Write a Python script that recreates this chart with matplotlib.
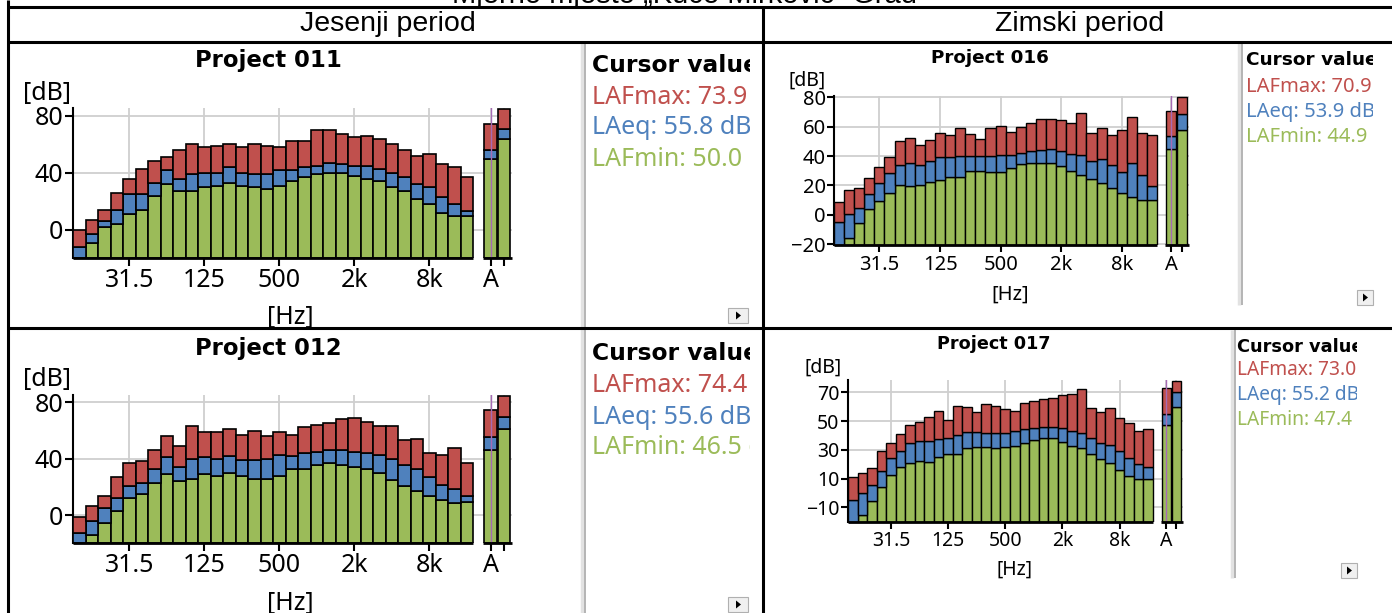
import numpy as np
import matplotlib
matplotlib.use('Agg')
import matplotlib.pyplot as plt
from matplotlib.lines import Line2D
from matplotlib.patches import Rectangle, Polygon
from matplotlib.transforms import Bbox, blended_transform_factory
from matplotlib import font_manager as fm

W, H, DPI = 1392, 613, 100

# ---------------- data ----------------
bands = ['12.5', '16', '20', '25', '31.5', '40', '50', '63', '80', '100', '125', '160',
         '200', '250', '315', '400', '500', '630', '800', '1k', '1.25k', '1.6k', '2k',
         '2.5k', '3.15k', '4k', '5k', '6.3k', '8k', '10k', '12.5k', '16k']
shown_ticks = ['31.5', '125', '500', '2k', '8k']
weight_labels = ['A', '']

p011_max = [0, 7, 14, 26, 36, 43, 48, 51, 56, 60, 58, 59, 60, 58, 60, 59, 58, 62, 62, 70, 70, 67, 65, 66, 64, 60, 56, 52, 53, 46, 44, 37]
p011_eq = [-12, -3, 6, 14, 25, 25, 33, 42, 36, 39, 40, 40, 44, 40, 39, 39, 42, 42, 44, 45, 47, 46, 45, 45, 43, 40, 37, 32, 30, 23, 18, 13]
p011_min = [-22, -9, 2, 4, 11, 14, 24, 32, 27, 27, 30, 31, 33, 31, 30, 29, 31, 34, 37, 39, 40, 40, 38, 36, 34, 30, 27, 22, 18, 12, 10, 10]
p011_a_max = [73.9, 85.0]
p011_a_eq = [55.8, 70.5]
p011_a_min = [50.0, 63.5]

p012_max = [-1, 7, 14, 27, 37, 38.5, 46, 56, 49, 63, 59, 59, 61, 57, 60, 56.5, 59, 57, 62.5, 64, 65, 68, 69, 66, 63, 63, 53, 54, 44, 43, 47.5, 37]
p012_eq = [-12.6, -4, 5, 12, 21, 23, 33, 41, 34, 40, 41, 40, 42, 39, 39, 40, 43, 42, 44, 45, 46, 46, 45, 44, 42.5, 40, 36, 33, 27, 21.6, 18.5, 14]
p012_min = [-22, -14, -5.5, 3, 12, 15, 23, 29, 24, 26, 29, 28, 30, 28, 26, 26, 28, 32.5, 33, 36, 37, 36, 34, 32.5, 30, 25, 21, 17, 14, 11, 9, 9.5]
p012_a_max = [74.4, 84.5]
p012_a_eq = [55.6, 69.5]
p012_a_min = [46.5, 61.0]

p016_max = [8.6, 17, 18, 25, 32.5, 39.5, 50, 52, 47.5, 51, 56, 54, 59, 55, 51.5, 59, 60.5, 56.5, 59.5, 62.5, 65.5, 65.5, 64.5, 62.5, 69.5, 56, 59, 54.5, 58, 66.5, 56, 54]
p016_eq = [-5, 0.5, 4.5, 14, 21.5, 28.5, 34, 35.5, 34, 36.5, 39, 39, 40, 40, 40, 40, 40.5, 41, 42, 43.5, 44, 44.5, 43.5, 41.5, 41, 36.5, 38, 34, 29, 35, 27, 19.5]
p016_min = [-23, -16, -6, 4, 9.5, 15, 20, 19.5, 20.5, 22.5, 23.5, 26, 26, 30, 29.5, 29, 29, 32, 34.5, 35, 35.5, 35, 33, 30, 27, 24.5, 21.5, 18, 14.5, 12, 10, 10]
p016_a_max = [70.9, 80.5]
p016_a_eq = [53.9, 68.5]
p016_a_min = [44.9, 58.0]

p017_max = [11, 13.6, 17.6, 29.5, 35, 41, 47, 49.5, 53, 57, 51, 60.5, 59.6, 56.5, 62, 60.5, 58.6, 57, 62.8, 63.7, 65.6, 66.3, 68, 68.8, 72, 59, 56, 59, 52.4, 48.5, 43.3, 44.7]
p017_eq = [-5, 0.3, 5.5, 15, 24.5, 29, 34.5, 36.5, 36, 37.7, 38.4, 40.5, 42.6, 42.6, 42, 42, 42, 43, 44.7, 45.4, 46, 46, 45, 43, 42, 38, 35, 33.4, 29, 24, 20, 18]
p017_min = [-23, -15, -5.5, 4, 12.5, 18, 21, 22, 21.7, 24.7, 27, 27, 31, 32, 32, 31, 32, 33, 35, 36.8, 38, 38, 35.6, 33, 31.3, 27, 23.7, 21, 16, 12, 10, 10]
p017_a_max = [73.0, 78.0]
p017_a_eq = [55.2, 70.0]
p017_a_min = [47.4, 60.0]

RED, BLUE, GREEN = '#C0504D', '#4F81BD', '#9BBB59'


def pick_font(name, fallback):
    try:
        fm.findfont(fm.FontProperties(family=name), fallback_to_default=False)
        return name
    except Exception:
        return fallback


CHART_FONT = pick_font('Noto Sans', 'DejaVu Sans')
HEAD_FONT = pick_font('Liberation Sans Narrow', 'Liberation Sans')
BOLD_FONT = 'DejaVu Sans'
plt.rcParams['font.family'] = [CHART_FONT, 'DejaVu Sans']

fig = plt.figure(figsize=(W / DPI, H / DPI), dpi=DPI)
fig.patch.set_facecolor('white')


def fr(x0, y0, x1, y1):
    return [x0 / W, 1 - y1 / H, (x1 - x0) / W, (y1 - y0) / H]


def fline(x0, y0, x1, y1, color='black', lw=2.2, z=10):
    fig.add_artist(Line2D([x0 / W, x1 / W], [1 - y0 / H, 1 - y1 / H], transform=fig.transFigure,
                          color=color, lw=lw, solid_capstyle='butt', zorder=z))


def ftext(x, y, s, **kw):
    return fig.text(x / W, 1 - y / H, s, **kw)


def pbox(x0, y0, x1, y1):
    return Bbox.from_extents(x0, H - y1, x1, H - y0)


def draw_chart(box, ylim, yticks, fs, edge_lw, tlen, xpad, ypad,
               fmax, feq, fmin, amax, aeq, amin):
    ax = fig.add_axes(fr(*box))
    n = len(bands)
    x = np.arange(n)
    xa = n + np.array([0.9, 1.95])
    xx = np.concatenate([x, xa])
    floor = ylim[0]
    lo = np.maximum(np.concatenate([fmin, amin]), floor)
    mid = np.maximum(np.concatenate([feq, aeq]), floor)
    hi = np.maximum(np.concatenate([fmax, amax]), floor)
    kw = dict(width=1.0, edgecolor='black', linewidth=edge_lw, zorder=3)
    ax.bar(xx, lo - floor, bottom=floor, color=GREEN, **kw)
    ax.bar(xx, mid - lo, bottom=lo, color=BLUE, **kw)
    ax.bar(xx, hi - mid, bottom=mid, color=RED, **kw)
    ax.axvline(xa[0], color='#A66BB5', lw=1.0, zorder=6)
    ax.set_xlim(-0.5, xa[-1] + 0.65)
    ax.set_ylim(*ylim)
    tick_pos = [bands.index(b) for b in shown_ticks]
    ax.set_xticks(tick_pos + list(xa))
    ax.set_xticklabels(shown_ticks + weight_labels)
    ax.set_yticks(yticks)
    ax.set_axisbelow(True)
    ax.grid(True, color='#CFCFCF', lw=1.3, zorder=0)
    for s in ['top', 'right', 'bottom']:
        ax.spines[s].set_visible(False)
    ax.spines['left'].set_linewidth(1.5)
    ax.tick_params(axis='x', direction='out', length=tlen, width=1.5, labelsize=fs, pad=xpad)
    ax.tick_params(axis='y', direction='out', length=tlen, width=1.5, labelsize=fs, pad=ypad)
    trans = blended_transform_factory(ax.transData, ax.transAxes)
    ax.plot([-0.5, n - 0.5], [0, 0], transform=trans, color='black', lw=2, clip_on=False,
            solid_capstyle='butt', zorder=7)
    ax.plot([xa[0] - 0.6, xa[-1] + 0.65], [0, 0], transform=trans, color='black', lw=2,
            clip_on=False, solid_capstyle='butt', zorder=7)
    return ax


def draw_cursor(sep_x, y0, y1, tx, ys, clip_x1, fs, bfs, vals, button):
    fline(sep_x - 3, y0, sep_x - 3, y1, color='#E2E2E2', lw=2.5, z=2)
    fline(sep_x, y0, sep_x, y1, color='#A8A8A8', lw=1.2, z=2)
    cb = pbox(sep_x, y0, clip_x1, y1)
    lines = [('Cursor values', 'black', 'bold', bfs, [BOLD_FONT]),
             ('LAFmax: %.1f dB' % vals[0], RED, 'normal', fs, [CHART_FONT, 'DejaVu Sans']),
             ('LAeq: %.1f dB' % vals[1], BLUE, 'normal', fs, [CHART_FONT, 'DejaVu Sans']),
             ('LAFmin: %.1f dB' % vals[2], GREEN, 'normal', fs, [CHART_FONT, 'DejaVu Sans'])]
    for (s, c, wgt, size, fam), y in zip(lines, ys):
        t = ftext(tx, y, s, color=c, fontsize=size, fontweight=wgt, family=fam,
                  ha='left', va='center')
        t.set_clip_box(cb)
        t.set_clip_on(True)
    bx0, by0, bx1, by1 = button
    fig.add_artist(Rectangle((bx0 / W, 1 - by1 / H), (bx1 - bx0) / W, (by1 - by0) / H,
                             transform=fig.transFigure, facecolor='#F0F0F0',
                             edgecolor='#B0B0B0', lw=0.8))
    cx, cy = (bx0 + bx1) / 2, (by0 + by1) / 2
    fig.add_artist(Polygon([((cx - 2) / W, 1 - (cy - 4) / H), ((cx - 2) / W, 1 - (cy + 4) / H),
                            ((cx + 3) / W, 1 - cy / H)], closed=True, transform=fig.transFigure,
                           facecolor='black', edgecolor='none'))


def bold_title(x, y, s, size):
    ftext(x, y, s, fontsize=size, fontweight='bold', family=[BOLD_FONT], ha='center', va='center')


# ---------------- table frame ----------------
ftext(685, -5, 'Mjerno mjesto \u201eKu\u0107e Mirkovi\u0107\u201c Grad', fontsize=21,
      family=[HEAD_FONT, 'DejaVu Sans'], ha='center', va='center')
fline(8, 7, W, 7)
fline(8, 42, W, 42)
fline(8, 328, W, 328)
fline(8, 0, 8, H)
fline(763, 7, 763, H)
ftext(388, 24, 'Jesenji period', fontsize=20.5, family=[HEAD_FONT, 'DejaVu Sans'], ha='center', va='center')
ftext(1080, 24, 'Zimski period', fontsize=20.5, family=[HEAD_FONT, 'DejaVu Sans'], ha='center', va='center')

# ---------------- Project 011 ----------------
draw_chart((73, 107.9, 512, 257.8), (-19.5, 85.5), [0, 40, 80], 18, 1.2, 6, 1, 1,
           p011_max, p011_eq, p011_min, p011_a_max, p011_a_eq, p011_a_min)
bold_title(268, 61, 'Project 011', 16.4)
ftext(23, 93, '[dB]', fontsize=18, ha='left', va='center')
ftext(290, 317, '[Hz]', fontsize=18, ha='center', va='center')
draw_cursor(585, 42, 328, 592, [65, 97, 128, 160], 750, 18, 16.8,
            (p011_a_max[0], p011_a_eq[0], p011_a_min[0]), (728, 308, 748, 323))

# ---------------- Project 012 ----------------
draw_chart((73, 394.5, 512, 543), (-19.5, 85.5), [0, 40, 80], 18, 1.2, 6, 1, 1,
           p012_max, p012_eq, p012_min, p012_a_max, p012_a_eq, p012_a_min)
bold_title(268, 348, 'Project 012', 16.4)
ftext(23, 380, '[dB]', fontsize=18, ha='left', va='center')
ftext(290, 603, '[Hz]', fontsize=18, ha='center', va='center')
draw_cursor(585, 328, H, 592, [353, 385, 417, 448], 750, 18, 16.8,
            (p012_a_max[0], p012_a_eq[0], p012_a_min[0]), (728, 597, 748, 612))

# ---------------- Project 016 ----------------
draw_chart((834, 95.9, 1188.5, 245.5), (-21, 81), [-20, 0, 20, 40, 60, 80], 14.5, 1.0, 5, 2, 1,
           p016_max, p016_eq, p016_min, p016_a_max, p016_a_eq, p016_a_min)
bold_title(990, 58, 'Project 016', 13.2)
ftext(789, 81, '[dB]', fontsize=14, ha='left', va='center')
ftext(1010, 295, '[Hz]', fontsize=14.5, ha='center', va='center')
draw_cursor(1242, 42, 305, 1246, [60, 87, 112, 137], 1373, 14.5, 13.3,
            (p016_a_max[0], p016_a_eq[0], p016_a_min[0]), (1357, 290, 1373, 305))

# ---------------- Project 017 ----------------
draw_chart((848, 380, 1182.5, 521.7), (-20, 78.6), [-10, 10, 30, 50, 70], 14, 1.0, 5, 2, 1,
           p017_max, p017_eq, p017_min, p017_a_max, p017_a_eq, p017_a_min)
bold_title(994, 344, 'Project 017', 12.7)
ftext(805, 368, '[dB]', fontsize=14, ha='left', va='center')
ftext(1015, 570, '[Hz]', fontsize=14, ha='center', va='center')
draw_cursor(1235, 330, 578, 1237, [347, 370, 395, 420], 1357, 13.8, 12.8,
            (p017_a_max[0], p017_a_eq[0], p017_a_min[0]), (1341, 563, 1357, 578))

fig.savefig('out.png', dpi=DPI, facecolor='white')
